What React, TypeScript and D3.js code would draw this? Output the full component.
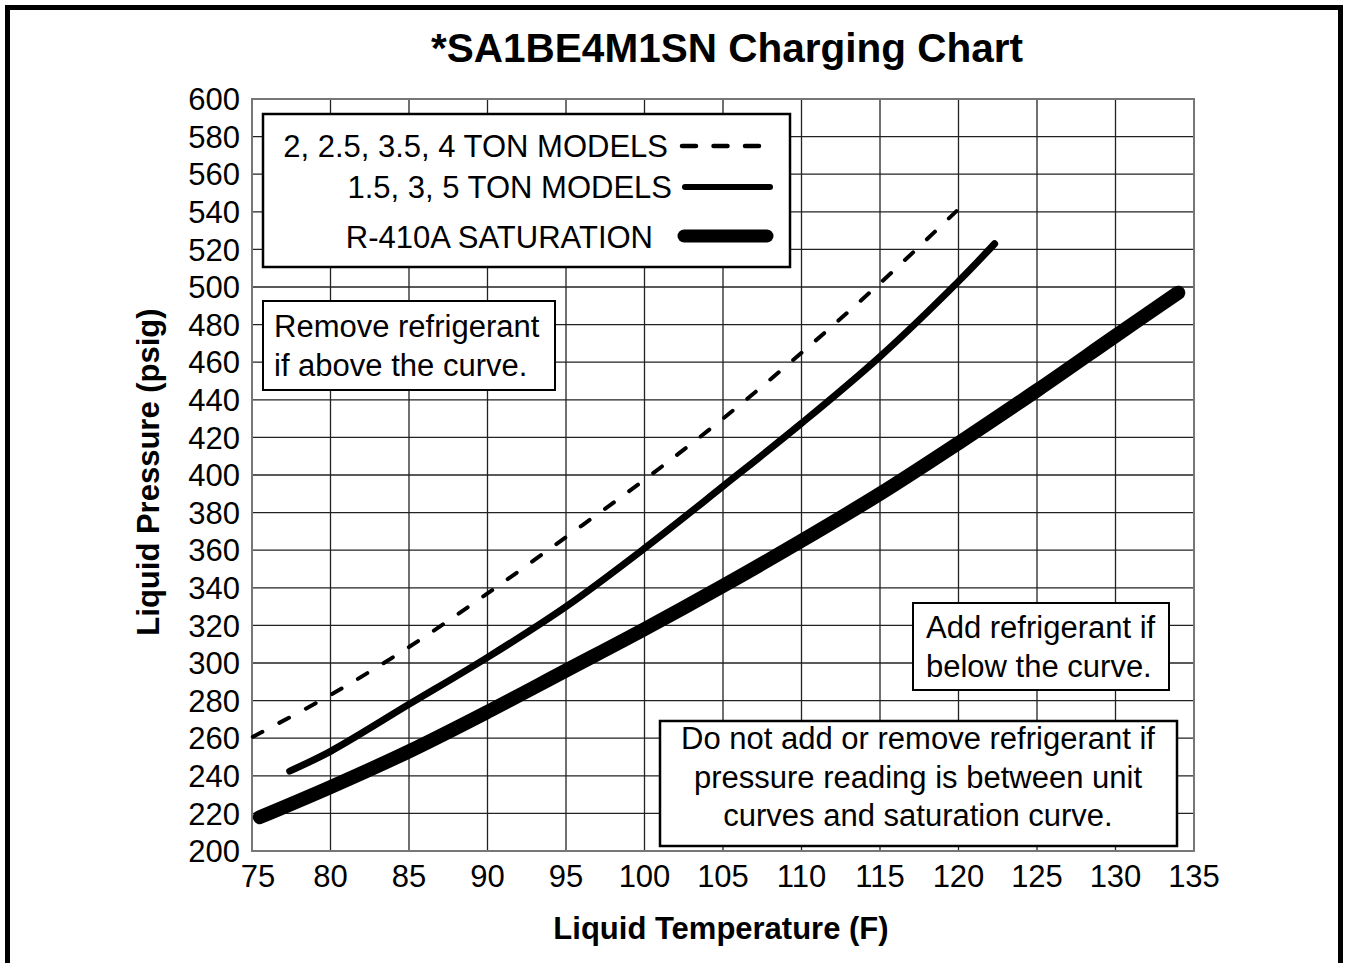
import React from "react";
import * as d3 from "d3";

const TITLE = "*SA1BE4M1SN Charging Chart";
const X_LABEL = "Liquid Temperature (F)";
const Y_LABEL = "Liquid Pressure (psig)";

const tempTicks = [75, 80, 85, 90, 95, 100, 105, 110, 115, 120, 125, 130, 135];
const psigTicks = [200, 220, 240, 260, 280, 300, 320, 340, 360, 380, 400, 420, 440, 460, 480, 500, 520, 540, 560, 580, 600];

// 2, 2.5, 3.5, 4 TON MODELS (dashed)
const dashedTemp = [75, 80, 85, 90, 95, 100, 105, 110, 115, 120.2];
const dashedPsig = [260.5, 283, 308.5, 337, 367, 397.5, 430, 465, 502, 543];

// 1.5, 3, 5 TON MODELS (solid)
const solidTemp = [77.4, 80, 85, 90, 95, 100, 105, 110, 115, 120, 122.3];
const solidPsig = [242.5, 253, 278, 303, 330, 361, 394, 427.5, 463, 503, 523];

// R-410A SATURATION (thick)
const satTemp = [75.5, 80, 85, 90, 95, 100, 105, 110, 115, 120, 125, 130, 134];
const satPsig = [218, 234, 253, 274, 296, 318, 341, 365, 390, 417, 445, 474, 497];

const legendLabels = ["2, 2.5, 3.5, 4 TON MODELS", "1.5, 3, 5 TON MODELS", "R-410A SATURATION"];
const removeNote = ["Remove refrigerant", "if above the curve."];
const addNote = ["Add refrigerant if", "below the curve."];
const keepNote = ["Do not add or remove refrigerant if", "pressure reading is between unit", "curves and saturation curve."];

const W = 1348;
const H = 963;
const FONT = "'Liberation Sans', Arial, Helvetica, sans-serif";
const FS = 31;

export default function App() {
  const x = d3.scaleLinear().domain([75, 135]).range([252, 1194]);
  const y = d3.scaleLinear().domain([200, 600]).range([851, 99]);

  const line = d3
    .line<[number, number]>()
    .x((d) => x(d[0]))
    .y((d) => y(d[1]))
    .curve(d3.curveCatmullRom.alpha(0.5));

  const zip = (a: number[], b: number[]) => a.map((v, i) => [v, b[i]] as [number, number]);

  const dashedPath = line(zip(dashedTemp, dashedPsig)) || "";
  const solidPath = line(zip(solidTemp, solidPsig)) || "";
  const satPath = line(zip(satTemp, satPsig)) || "";

  const [x0, x1] = x.range();
  const [y0, y1] = y.range();

  return (
    <svg
      width={W}
      height={H}
      style={{ position: "absolute", left: 0, top: 0, background: "#fff" }}
      fontFamily={FONT}
    >
      <rect x={0} y={0} width={W} height={H} fill="#fff" />
      {/* outer border */}
      <rect x={7.5} y={7.5} width={W - 15} height={H + 20} fill="none" stroke="#000" strokeWidth={5} />

      {/* title */}
      <text x={727} y={62} textAnchor="middle" fontSize={40.5} fontWeight="bold">
        {TITLE}
      </text>

      {/* grid */}
      {tempTicks.map((t) => (
        <line key={"vx" + t} x1={x(t)} x2={x(t)} y1={y1} y2={y0} stroke="#222" strokeWidth={1.3} />
      ))}
      {psigTicks.map((p) => (
        <line key={"hy" + p} x1={x0} x2={x1} y1={y(p)} y2={y(p)} stroke="#222" strokeWidth={1.3} />
      ))}
      <rect x={x0} y={y1} width={x1 - x0} height={y0 - y1} fill="none" stroke="#777" strokeWidth={2} />

      {/* tick labels */}
      {psigTicks.map((p) => (
        <text key={"yl" + p} x={240} y={y(p)} dy="0.36em" textAnchor="end" fontSize={FS}>
          {p}
        </text>
      ))}
      {tempTicks.map((t, i) => (
        <text key={"xl" + t} x={x(t) + (i === 0 ? 6 : 0)} y={887} textAnchor="middle" fontSize={FS}>
          {t}
        </text>
      ))}

      {/* axis titles */}
      <text x={721} y={939} textAnchor="middle" fontSize={FS} fontWeight="bold">
        {X_LABEL}
      </text>
      <text transform="translate(159,472) rotate(-90)" textAnchor="middle" fontSize={FS} fontWeight="bold">
        {Y_LABEL}
      </text>

      {/* curves */}
      <path d={satPath} fill="none" stroke="#000" strokeWidth={14} strokeLinecap="round" strokeLinejoin="round" />
      <path d={solidPath} fill="none" stroke="#000" strokeWidth={7} strokeLinecap="round" strokeLinejoin="round" />
      <path
        d={dashedPath}
        fill="none"
        stroke="#000"
        strokeWidth={4}
        strokeLinecap="round"
        strokeDasharray="11 19"
        strokeDashoffset={-1}
      />

      {/* legend */}
      <rect x={263} y={114} width={527} height={153} fill="#fff" stroke="#000" strokeWidth={2.5} />
      <text x={668} y={157} textAnchor="end" fontSize={FS}>
        {legendLabels[0]}
      </text>
      <text x={672} y={198} textAnchor="end" fontSize={FS}>
        {legendLabels[1]}
      </text>
      <text x={653} y={248} textAnchor="end" fontSize={FS}>
        {legendLabels[2]}
      </text>
      <line x1={682} x2={762} y1={146} y2={146} stroke="#000" strokeWidth={4.5} strokeLinecap="round" strokeDasharray="14 17.5" />
      <line x1={685} x2={770} y1={187} y2={187} stroke="#000" strokeWidth={6} strokeLinecap="round" />
      <line x1={684} x2={767} y1={236} y2={236} stroke="#000" strokeWidth={13} strokeLinecap="round" />

      {/* notes */}
      <rect x={263} y={301} width={292} height={89} fill="#fff" stroke="#000" strokeWidth={2} />
      {removeNote.map((s, i) => (
        <text key={"rm" + i} x={274} y={337 + i * 38.5} fontSize={FS}>
          {s}
        </text>
      ))}

      <rect x={913} y={603} width={256} height={87} fill="#fff" stroke="#000" strokeWidth={2} />
      {addNote.map((s, i) => (
        <text key={"ad" + i} x={926} y={638 + i * 38.5} fontSize={FS}>
          {s}
        </text>
      ))}

      <rect x={660} y={721} width={517} height={125} fill="#fff" stroke="#000" strokeWidth={2.5} />
      {keepNote.map((s, i) => (
        <text key={"kp" + i} x={918} y={749 + i * 38.5} textAnchor="middle" fontSize={FS}>
          {s}
        </text>
      ))}
    </svg>
  );
}
